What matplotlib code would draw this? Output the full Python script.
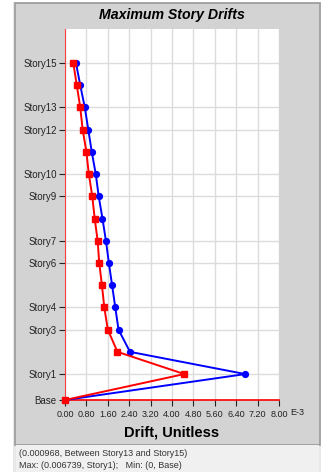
import matplotlib.pyplot as plt
from matplotlib.patches import Rectangle
import matplotlib.ticker as mticker

plt.rcParams['font.family'] = ['Liberation Sans', 'DejaVu Sans']

# story elevations (m) and drift results (x 1E-3)
stories = ['Base', 'Story1', 'Story2', 'Story3', 'Story4', 'Story5', 'Story6', 'Story7',
           'Story8', 'Story9', 'Story10', 'Story11', 'Story12', 'Story13', 'Story14', 'Story15']
elev = [0, 4.2, 7.8, 11.4, 15.0, 18.6, 22.2, 25.8, 29.4, 33.0, 36.6, 40.2, 43.8, 47.4, 51.0, 54.6]
drift_x = [0, 6.739, 2.43, 2.00, 1.88, 1.76, 1.64, 1.53, 1.40, 1.26, 1.15, 1.00, 0.87, 0.74, 0.57, 0.41]
drift_y = [0, 4.46, 1.96, 1.60, 1.47, 1.38, 1.28, 1.22, 1.11, 1.02, 0.89, 0.80, 0.66, 0.57, 0.44, 0.31]

shown = ['Base', 'Story1', 'Story3', 'Story4', 'Story6', 'Story7', 'Story9', 'Story10',
         'Story12', 'Story13', 'Story15']
xticks = [0, 0.8, 1.6, 2.4, 3.2, 4.0, 4.8, 5.6, 6.4, 7.2, 8.0]

W, H = 326, 472
fig = plt.figure(figsize=(W / 100, H / 100), dpi=100)
fig.patch.set_facecolor('white')

def box(x0, y0, x1, y1, **kw):
    fig.patches.append(Rectangle((x0 / W, 1 - y1 / H), (x1 - x0) / W, (y1 - y0) / H,
                                 transform=fig.transFigure, zorder=-5, **kw))

# panel background, info strip
box(13, 2, 321, 472, facecolor='#e8e8e8', edgecolor='none')
box(15, 3, 320, 445, facecolor='#d3d3d3', edgecolor='#9a9a9a', lw=1.2)
box(16, 445, 319, 472, facecolor='#f0f0f0', edgecolor='none')

ax = fig.add_axes([65 / W, 1 - 400 / H, (279 - 65) / W, (400 - 29) / H])
ax.set_zorder(2)
ax.set_facecolor('white')

ax.plot(drift_x, elev, color='#0000ff', lw=1.4, marker='o', ms=4.2, zorder=3, clip_on=False)
ax.plot(drift_y, elev, color='#ff0000', lw=1.4, marker='s', ms=4.5, zorder=3, clip_on=False)

ax.set_xlim(0, 8)
ax.set_ylim(0, 60.1)
ax.set_xticks(xticks)
ax.xaxis.set_major_formatter(mticker.FormatStrFormatter('%.2f'))
ax.set_yticks([elev[stories.index(s)] for s in shown])
ax.set_yticklabels(shown)
ax.grid(True, color='#dcdcdc', lw=1)
ax.set_axisbelow(True)

for s in ['top', 'right']:
    ax.spines[s].set_visible(False)
ax.spines['left'].set_color('#ff4040')
ax.spines['bottom'].set_color('#ff0000')
ax.spines['bottom'].set_linewidth(1.2)
ax.tick_params(direction='out', length=4, width=0.8, colors='#222222', pad=2)
ax.tick_params(axis='x', labelsize=6.5, pad=3)
ax.tick_params(axis='y', labelsize=7)

ax.text(8.42, -0.035, 'E-3', transform=ax.get_xaxis_transform(), ha='left', va='center',
        fontsize=6.5, color='#222222', clip_on=False)
ax.set_xlabel('Drift, Unitless', fontsize=10.5, fontweight='bold', labelpad=5)

fig.text(172 / W, 1 - 15 / H, 'Maximum Story Drifts', ha='center', va='center',
         fontsize=10.2, fontweight='bold', fontstyle='italic')
fig.text(19 / W, 1 - 453 / H, '(0.000968, Between Story13 and Story15)', ha='left',
         va='center', fontsize=6.5, color='#333333')
fig.text(19 / W, 1 - 465 / H, 'Max: (0.006739, Story1);   Min: (0, Base)', ha='left',
         va='center', fontsize=6.5, color='#333333')

fig.savefig('out.png', dpi=100)
